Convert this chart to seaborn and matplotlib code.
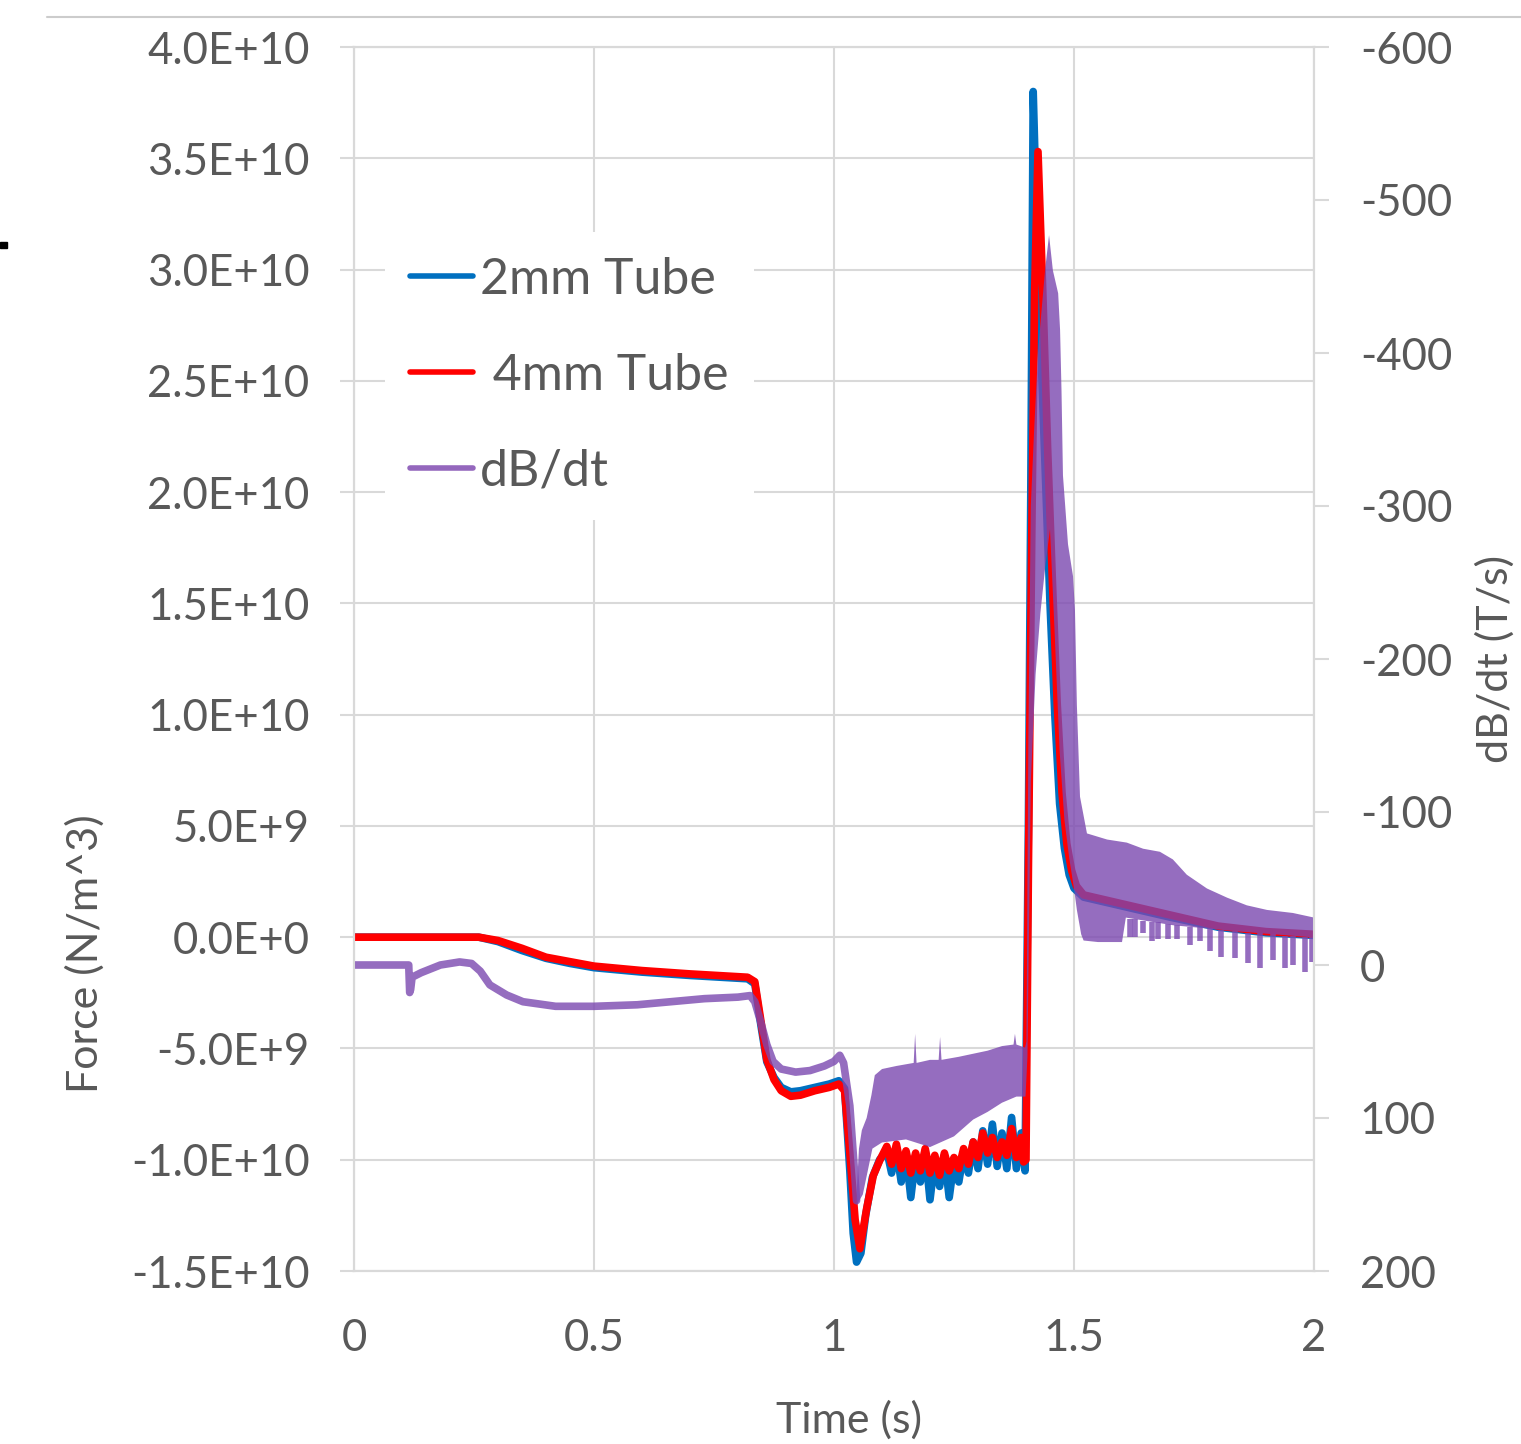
import numpy as np
import matplotlib
matplotlib.use("Agg")
import matplotlib.pyplot as plt
from matplotlib.lines import Line2D
from matplotlib.patches import Rectangle
import seaborn as sns

# Force curves, time in s, force in units of 1E10 N/m^3
t_2mm = [0, 0.26, 0.30, 0.35, 0.40, 0.45, 0.50, 0.60, 0.70, 0.82, 0.835, 0.848, 0.86, 0.875,
         0.89, 0.91, 0.93, 0.96, 0.99, 1.01, 1.022, 1.033, 1.04, 1.047, 1.056, 1.066, 1.08,
         1.095, 1.11,
         1.12, 1.13, 1.14, 1.15, 1.16, 1.17, 1.18, 1.19, 1.20, 1.21, 1.22, 1.23, 1.24, 1.25,
         1.26, 1.27, 1.28, 1.29, 1.30, 1.31, 1.32, 1.33, 1.34, 1.35, 1.36, 1.37, 1.38, 1.39,
         1.398, 1.405, 1.410, 1.415, 1.42, 1.43, 1.44, 1.45, 1.46, 1.47, 1.48, 1.49, 1.50,
         1.52, 1.60, 1.70, 1.80, 1.90, 2.00]
f_2mm = [0, 0, -0.02, -0.06, -0.095, -0.118, -0.137, -0.157, -0.172, -0.187, -0.21, -0.40,
         -0.56, -0.63, -0.675, -0.695, -0.69, -0.675, -0.66, -0.645, -0.68, -1.05, -1.33,
         -1.46, -1.42, -1.25, -1.08, -1.00, -0.96,
         -1.06, -0.95, -1.10, -0.97, -1.17, -0.99, -1.10, -0.96, -1.18, -1.00, -1.12, -0.98,
         -1.17, -1.01, -1.10, -0.97, -1.06, -0.92, -1.04, -0.87, -1.02, -0.84, -1.03, -0.88,
         -1.04, -0.81, -1.04, -0.88,
         -1.05, 0.5, 2.0, 3.80, 3.40, 2.70, 2.10, 1.50, 1.00, 0.60, 0.40, 0.28, 0.22,
         0.18, 0.14, 0.09, 0.045, 0.02, 0.008]

t_4mm = [0, 0.26, 0.30, 0.35, 0.40, 0.45, 0.50, 0.60, 0.70, 0.82, 0.835, 0.848, 0.86, 0.875,
         0.89, 0.91, 0.93, 0.96, 0.99, 1.01, 1.022, 1.033, 1.044, 1.054, 1.068, 1.082, 1.096,
         1.11,
         1.12, 1.13, 1.14, 1.15, 1.16, 1.17, 1.18, 1.19, 1.20, 1.21, 1.22, 1.23, 1.24, 1.25,
         1.26, 1.27, 1.28, 1.29, 1.30, 1.31, 1.32, 1.33, 1.34, 1.35, 1.36, 1.37, 1.38, 1.39,
         1.395, 1.400, 1.405, 1.412, 1.418, 1.425, 1.435, 1.445, 1.455, 1.465, 1.475, 1.485,
         1.495, 1.505, 1.52, 1.60, 1.70, 1.80, 1.90, 2.00]
f_4mm = [0, 0, -0.015, -0.05, -0.09, -0.11, -0.13, -0.15, -0.165, -0.18, -0.20, -0.38, -0.55,
         -0.64, -0.69, -0.715, -0.71, -0.69, -0.675, -0.66, -0.69, -0.97, -1.27, -1.40, -1.22,
         -1.07, -1.00, -0.94,
         -1.02, -0.93, -1.04, -0.96, -1.06, -0.97, -1.05, -0.95, -1.06, -0.98, -1.07, -0.97,
         -1.05, -0.99, -1.04, -0.95, -1.02, -0.92, -0.99, -0.88, -0.97, -0.90, -0.99, -0.92,
         -0.98, -0.86, -0.99, -0.90,
         -1.01, -1.00, 0.3, 1.8, 2.9, 3.53, 2.9, 2.2, 1.6, 1.05, 0.65, 0.42, 0.30, 0.23, 0.19,
         0.15, 0.10, 0.05, 0.025, 0.013]

# dB/dt (T/s): smooth part before the pulse
t_db = [0, 0.114, 0.116, 0.118, 0.121, 0.14, 0.18, 0.22, 0.245, 0.263, 0.283, 0.318, 0.352,
        0.42, 0.50, 0.59, 0.66, 0.73, 0.80, 0.825, 0.835, 0.848, 0.86, 0.873, 0.89, 0.92,
        0.95, 0.98, 1.00, 1.012, 1.02, 1.033, 1.047]
db = [0, 0, 18, 16, 8, 5, 0, -2, -1, 4, 13, 19.6, 24, 27, 27, 26, 24, 22, 21, 20, 24, 38, 52,
      63, 68, 70, 69, 66, 63, 59, 64, 92, 154]

# dB/dt noisy band: upper edge (most negative) and lower edge
t_db_up = [1.047, 1.052, 1.058, 1.068, 1.078, 1.085, 1.10, 1.13, 1.166, 1.169, 1.172, 1.20,
           1.218, 1.221, 1.224, 1.26, 1.29, 1.32, 1.35, 1.374, 1.377, 1.380, 1.398, 1.401,
           1.405, 1.41, 1.417, 1.425, 1.433, 1.440, 1.448, 1.456, 1.467, 1.471, 1.474, 1.477,
           1.4875, 1.498, 1.502, 1.506, 1.5125, 1.527, 1.569, 1.610, 1.644, 1.679, 1.706,
           1.735, 1.777, 1.819, 1.860, 1.902, 1.956, 2.0]
db_up = [150, 120, 108, 100, 85, 72, 68, 66, 64, 45, 64, 62, 62, 47, 62, 60, 58, 56, 53, 52,
         45, 52, 54, 50, -150, -300, -350, -400, -430, -455, -477, -454, -439, -415, -375,
         -320, -275, -254, -232, -170, -110, -86, -82, -80, -76, -74, -69, -59, -50, -44, -39,
         -36, -34, -31]
t_db_lo = [1.047, 1.06, 1.07, 1.08, 1.10, 1.15, 1.20, 1.25, 1.29, 1.32, 1.35, 1.38, 1.399,
           1.403, 1.41, 1.42, 1.43, 1.44, 1.45, 1.46, 1.47, 1.48, 1.49, 1.50, 1.506, 1.515,
           1.52, 1.55, 1.60, 1.608, 1.706, 1.84, 2.0]
db_lo = [157, 150, 135, 120, 116, 114, 119, 112, 101, 96, 90, 86, 86, 60, -120, -190, -230,
         -260, -285, -215, -140, -95, -70, -50, -36, -20, -16, -15, -15, -31, -26, -22, -18]

# downward spikes in the dB/dt tail
spike_t = [1.617, 1.627, 1.644, 1.662, 1.676, 1.696, 1.714, 1.742, 1.762, 1.783, 1.807, 1.835,
           1.863, 1.887, 1.915, 1.940, 1.957, 1.981, 1.995]
spike_top = [-30, -30, -29, -28, -28, -27, -26, -25, -25, -24, -23, -22, -21, -21, -20, -19,
             -19, -18, -18]
spike_bot = [-18, -18, -21, -16, -17, -17, -17, -13, -16, -9, -5, -4.5, -1, 2, -3, 2, 0, 4.5, -2]

x_ticks = [0, 0.5, 1, 1.5, 2]
x_tick_labels = ["0", "0.5", "1", "1.5", "2"]
force_ticks = [-1.5e10, -1.0e10, -5e9, 0, 5e9, 1.0e10, 1.5e10, 2.0e10, 2.5e10, 3.0e10, 3.5e10, 4.0e10]
force_tick_labels = ["-1.5E+10", "-1.0E+10", "-5.0E+9", "0.0E+0", "5.0E+9", "1.0E+10",
                     "1.5E+10", "2.0E+10", "2.5E+10", "3.0E+10", "3.5E+10", "4.0E+10"]
db_ticks = [-600, -500, -400, -300, -200, -100, 0, 100, 200]
db_tick_labels = ["-600", "-500", "-400", "-300", "-200", "-100", "0", "100", "200"]

F_SCALE = 1e10
BLUE = "#0070C0"
RED = "#FF0000"
PURPLE = "#7B48B0"
GRID = "#d9d9d9"
TXT = "#595959"
LW = 5.5

sns.set_theme(style="white")
plt.rcParams['font.family'] = ['Lato', 'DejaVu Sans']

fig = plt.figure(figsize=(15.21, 14.44), dpi=100)
ax = fig.add_axes([354 / 1521, 1 - 1271 / 1444, 960 / 1521, 1224 / 1444])
ax2 = ax.twinx()

sns.lineplot(x=t_2mm, y=np.array(f_2mm) * F_SCALE, ax=ax, color=BLUE, lw=LW,
             estimator=None, sort=False, legend=False)
sns.lineplot(x=t_4mm, y=np.array(f_4mm) * F_SCALE, ax=ax, color=RED, lw=LW,
             estimator=None, sort=False, legend=False)

sns.lineplot(x=t_db, y=db, ax=ax2, color=PURPLE, alpha=0.8, lw=LW,
             estimator=None, sort=False, legend=False)
ax2.fill(t_db_up + t_db_lo[::-1], db_up + db_lo[::-1], color=PURPLE, alpha=0.8, lw=0)
ax2.vlines(spike_t, spike_top, spike_bot, color=PURPLE, alpha=0.8, lw=4)

ax.set_xlim(0, 2)
ax.set_ylim(-1.5e10, 4.0e10)
ax.set_xticks(x_ticks)
ax.set_xticklabels(x_tick_labels)
ax.set_yticks(force_ticks)
ax.set_yticklabels(force_tick_labels)
ax2.set_ylim(200, -600)
ax2.set_yticks(db_ticks)
ax2.set_yticklabels(db_tick_labels)

ax.grid(True, color=GRID, lw=1.5)
ax2.grid(False)
for a in (ax, ax2):
    for s in a.spines.values():
        s.set_color(GRID)
        s.set_linewidth(1.5)

ax.tick_params(axis='x', length=0, pad=34, labelsize=31.5, labelcolor=TXT)
ax.tick_params(axis='y', direction='out', length=10, width=1.5, color=GRID, pad=22,
               labelsize=31.5, labelcolor=TXT, left=True)
ax2.tick_params(axis='y', direction='out', length=11, width=1.5, color=GRID, pad=22,
                labelsize=31.5, labelcolor=TXT, right=True)

ax.set_xlabel("Time (s)", fontsize=31, color=TXT, va='center', ha='center')
ax.xaxis.set_label_coords(0.5156, -0.1217)
ax.set_ylabel("Force (N/m^3)", fontsize=31, color=TXT, va='center', ha='center')
ax.yaxis.set_label_coords(-0.280, 0.259)
ax2.set_ylabel("dB/dt (T/s)", fontsize=31, color=TXT, va='center', ha='center', rotation=90)
ax2.yaxis.set_label_coords(1.1885, 0.5)

handles = [Line2D([], [], color=BLUE, lw=4),
           Line2D([], [], color=RED, lw=4),
           Line2D([], [], color="#9467BD", lw=4)]
leg = ax2.legend(handles, ["2mm Tube", " 4mm Tube", "dB/dt"], loc='upper left',
                 bbox_to_anchor=(0.0323, 0.8489), borderaxespad=0, fontsize=36,
                 frameon=True, facecolor='white', edgecolor='none', framealpha=1,
                 handlelength=1.26, handletextpad=0.14, labelspacing=1.0, borderpad=0.5)
for txt in leg.get_texts():
    txt.set_color(TXT)

# chart border line at the top and the small mark at the left edge
fig.add_artist(Line2D([47 / 1521, 1], [1 - 17 / 1444, 1 - 17 / 1444],
                      transform=fig.transFigure, color="#cccccc", lw=1.5))
fig.add_artist(Rectangle((0, 1 - 248 / 1444), 7 / 1521, 6 / 1444,
                         transform=fig.transFigure, color="black"))

fig.savefig("out.png", dpi=100)
